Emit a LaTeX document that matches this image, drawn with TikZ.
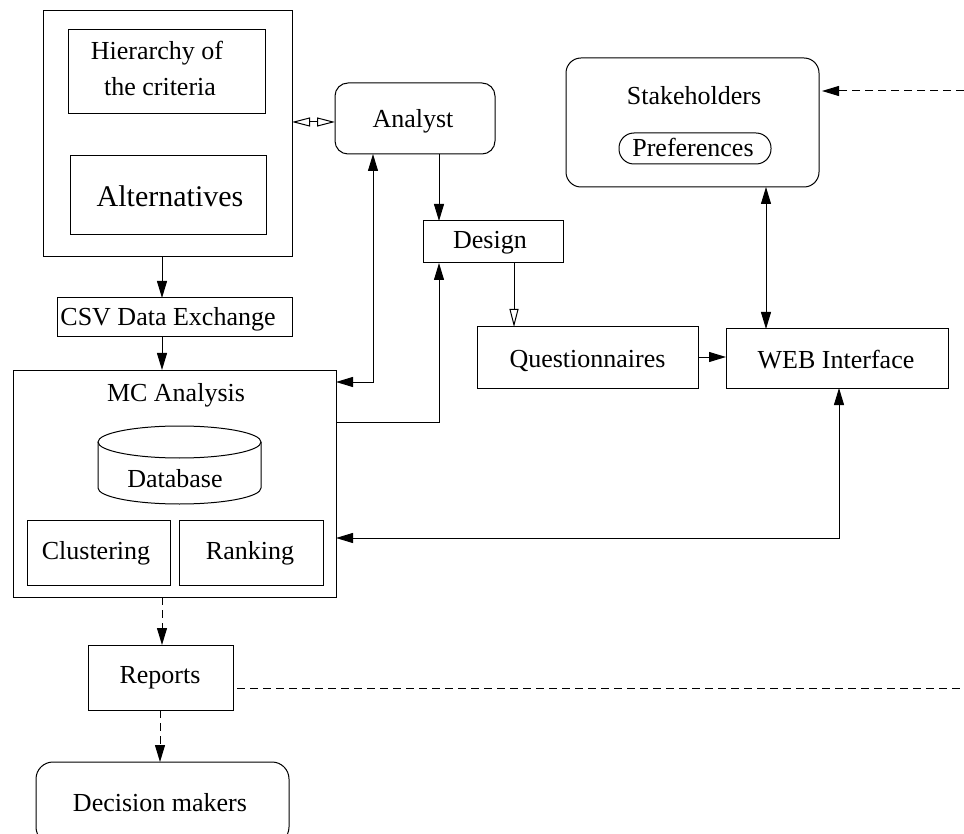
\documentclass[tikz,border=0pt]{standalone}
\usepackage{fontspec}
\setmainfont{Liberation Serif}
\usetikzlibrary{arrows.meta,calc}
\begin{document}
\begin{tikzpicture}[x=1pt,y=-1pt,
  txt/.style={font=\fontsize{26}{32}\selectfont, inner sep=0pt, outer sep=0pt, anchor=base},
  box/.style={draw, line width=1pt, inner sep=0pt, outer sep=0pt, rectangle},
  ghost/.style={inner sep=0pt, outer sep=0pt, rectangle},
  ln/.style={line width=1pt},
  arr/.style={ln, -{Triangle[length=17pt,width=10pt]}},
  arrtwo/.style={ln, {Triangle[length=17pt,width=10pt]}-{Triangle[length=17pt,width=10pt]}},
  harr/.style={ln, -{Triangle[open,length=18pt,width=9pt]}},
  harrtwo/.style={ln, {Triangle[open,length=18pt,width=9pt]}-{Triangle[open,length=18pt,width=9pt]}},
  dline/.style={ln, dash pattern=on 8pt off 5pt},
  darr/.style={dline, -{Triangle[length=17pt,width=10pt]}}
]
\clip (0,0) rectangle (964,834);
\fill[white] (0,0) rectangle (964,834);

% boxes
\node[box, minimum width=249, minimum height=246] (outer) at (167.5,134) {};
\node[box, minimum width=197, minimum height=84] (hier) at (166.5,72) {};
\node[txt] (hiert1) at (157,60) {Hierarchy of};
\node[txt] (hiert2) at (160,96) {the criteria};
\node[box, minimum width=196, minimum height=79] (alt) at (168,195.5) {};
\node[txt, font=\fontsize{30}{36}\selectfont] (altt) at (170,207) {Alternatives};

\node[box, rounded corners=13pt, minimum width=160, minimum height=71] (analyst) at (415,118.5) {};
\node[txt] (analystt) at (413,128) {Analyst};

\node[box, minimum width=140, minimum height=42] (design) at (493,242) {};
\node[txt] (designt) at (490,249) {Design};

\node[box, minimum width=221, minimum height=61] (quest) at (587.5,357.5) {};
\node[txt] (questt) at (587.5,367) {Questionnaires};

\node[box, minimum width=222, minimum height=59] (web) at (837,358.5) {};
\node[txt] (webt) at (836,368) {WEB Interface};

\node[box, rounded corners=15pt, minimum width=253, minimum height=129] (stake) at (692.5,122.5) {};
\node[txt] (staket) at (694,105) {Stakeholders};
\node[box, rounded corners=15pt, minimum width=152, minimum height=31] (pref) at (695,148.5) {};
\node[txt] (preft) at (693,157) {Preferences};

\node[box, minimum width=235, minimum height=39] (csv) at (174.5,317.5) {};
\node[txt] (csvt) at (168,326) {CSV Data Exchange};

\node[box, minimum width=323, minimum height=227] (mc) at (174.5,483.5) {};
\node[txt] (mct) at (176,401) {MC Analysis};

\node[ghost, minimum width=163, minimum height=78] (db) at (179.5,465) {};
\draw[ln] ($(db.north)+(0,16)$) ellipse[x radius=81.5pt, y radius=16pt];
\draw[ln] ($(db.north west)+(0,16)$) -- ($(db.south west)+(0,-16)$)
  arc[start angle=180, end angle=360, x radius=81.5pt, y radius=16pt]
  -- ($(db.north east)+(0,16)$);
\node[txt] (dbt) at (175,487) {Database};

\node[box, minimum width=143, minimum height=65] (clus) at (98.5,552.5) {};
\node[txt] (clust) at (96,559) {Clustering};
\node[box, minimum width=144, minimum height=65] (rank) at (251,552.5) {};
\node[txt] (rankt) at (250,559) {Ranking};

\node[box, minimum width=145, minimum height=65] (reports) at (160.5,677.5) {};
\node[txt] (reportst) at (160,683) {Reports};

\node[box, rounded corners=17pt, minimum width=253, minimum height=82] (dm) at (162.5,803) {};
\node[txt] (dmt) at (160,811) {Decision makers};

% helper coordinates
\coordinate (xa) at (162,0);
\coordinate (xb) at (160,0);
\coordinate (xc) at (439,0);
\coordinate (xd) at (514,0);
\coordinate (xe) at (766,0);
\coordinate (xf) at (373,0);
\coordinate (xh) at (839,0);
\coordinate (ya) at (0,122);
\coordinate (yq) at (0,357);
\coordinate (yf) at (0,382);
\coordinate (yg) at (0,422);
\coordinate (yh) at (0,538);
\coordinate (rend) at (964,688);
\coordinate (sstart) at (964,91);

% connectors
\draw[arr] (outer.south -| xa) -- (csv.north -| xa);
\draw[arr] (csv.south -| xa) -- (mc.north -| xa);
\draw[darr] (mc.south -| xa) -- (reports.north -| xa);
\draw[darr] (reports.south -| xb) -- (dm.north -| xb);
\draw[dline, shorten <=4pt] (reports.east |- rend) -- (rend);
\draw[darr, shorten >=3pt] (sstart) -- (stake.east |- sstart);
\draw[harrtwo] (outer.east |- ya) -- (analyst.west |- ya);
\draw[arr] (analyst.south -| xc) -- (design.north -| xc);
\draw[harr] (design.south -| xd) -- (quest.north -| xd);
\draw[arr] (quest.east |- yq) -- (web.west |- yq);
\draw[arrtwo] (stake.south -| xe) -- (web.north -| xe);
\draw[arrtwo] (mc.east |- yf) -| (analyst.south -| xf);
\draw[arr] (mc.east |- yg) -| (design.south -| xc);
\draw[arrtwo] (web.south -| xh) |- (mc.east |- yh);
\end{tikzpicture}
\end{document}
